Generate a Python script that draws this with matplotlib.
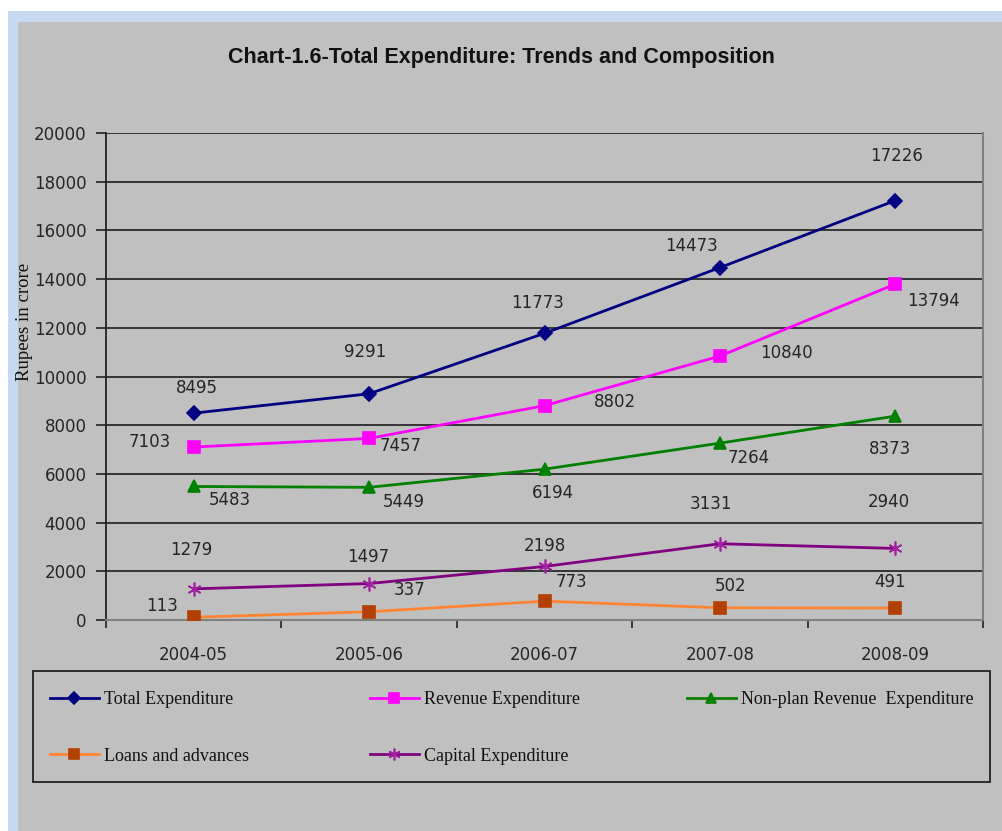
import matplotlib
matplotlib.use("Agg")
import matplotlib.pyplot as plt
from matplotlib.patches import Rectangle
import numpy as np

# ---- data -------------------------------------------------------------
years = ["2004-05", "2005-06", "2006-07", "2007-08", "2008-09"]
total_exp = [8495, 9291, 11773, 14473, 17226]
revenue_exp = [7103, 7457, 8802, 10840, 13794]
nonplan_rev_exp = [5483, 5449, 6194, 7264, 8373]
loans_adv = [113, 337, 773, 502, 491]
capital_exp = [1279, 1497, 2198, 3131, 2940]

# value-label placement around each marker (pixels: right, up)
total_off = [(3, 25), (-4, 42), (-7, 30), (-28, 22), (1, 45)]
revenue_off = [(-44, 5), (32, -8), (70, 4), (67, 3), (38, -17)]
nonplan_off = [(36, -14), (35, -15), (8, -24), (29, -15), (-5, -33)]
loans_off = [(-32, 11), (40, 22), (27, 19), (11, 22), (-5, 26)]
capital_off = [(-2, 39), (-1, 27), (0, 20), (-9, 40), (-6, 46)]

W, H = 1003, 831
fig = plt.figure(figsize=(W / 100, H / 100), dpi=100, facecolor="white")

def fx(px):
    return px / W

def fy(py):
    return 1 - py / H

# page background: light-blue band and grey chart area
fig.patches.append(Rectangle((fx(8), 0), 1, fy(11), transform=fig.transFigure,
                             facecolor="#c6d9f1", edgecolor="none", zorder=-3))
fig.patches.append(Rectangle((fx(18), 0), 1, fy(22), transform=fig.transFigure,
                             facecolor="#c0c0c0", edgecolor="none", zorder=-2))

ax = fig.add_axes([fx(106), fy(620), fx(983) - fx(106), fy(133) - fy(620)])
ax.set_facecolor("#c0c0c0")

x = np.arange(len(years))
num_font = dict(family="DejaVu Sans", size=12, color="#262626")

series = [
    (total_exp, "Total Expenditure", "#000080", "D", "#000080", 7, total_off),
    (revenue_exp, "Revenue Expenditure", "#ff00ff", "s", "#ff00ff", 9, revenue_off),
    (nonplan_rev_exp, "Non-plan Revenue  Expenditure", "#008000", "^", "#008000", 9, nonplan_off),
    (loans_adv, "Loans and advances", "#ff8533", "s", "#b34000", 8, loans_off),
    (capital_exp, "Capital Expenditure", "#800080", (6, 2, 0), "#a020a0", 10, capital_off),
]

handles = {}
for vals, name, col, mk, mcol, ms, offs in series:
    ln, = ax.plot(x, vals, color=col, lw=2, marker=mk, markersize=ms,
                  markerfacecolor=mcol, markeredgecolor=mcol, markeredgewidth=1.2,
                  zorder=4, label=name)
    handles[name] = ln
    for xi, v, (dx, dy) in zip(x, vals, offs):
        ax.annotate(str(v), (xi, v), xytext=(dx, dy), textcoords="offset pixels",
                    ha="center", va="center", zorder=5, **num_font)

# axes
ax.set_xlim(-0.5, 4.5)
ax.set_ylim(0, 20000)
ax.set_yticks(np.arange(0, 20001, 2000))
ax.set_yticklabels([str(v) for v in range(0, 20001, 2000)], **num_font)
ax.set_xticks(x)
ax.set_xticklabels(years, **num_font)
ax.set_xticks(np.arange(-0.5, 5, 1), minor=True)
ax.tick_params(axis="x", which="major", length=0, pad=19)
ax.tick_params(axis="x", which="minor", length=6, width=1.2, color="#222222", direction="out")
ax.tick_params(axis="y", length=7, width=1.2, color="#222222", pad=7)

for y in range(2000, 20001, 2000):
    ax.axhline(y, color="#2a2a2a", lw=1.3, zorder=1)
ax.spines["top"].set_visible(False)
ax.spines["left"].set_color("#222222")
ax.spines["left"].set_linewidth(1.3)
ax.spines["bottom"].set_color("#808080")
ax.spines["bottom"].set_linewidth(1.5)
ax.spines["right"].set_color("#808080")
ax.spines["right"].set_linewidth(1.5)

fig.text(fx(25), fy(322), "Rupees in crore", rotation=90, ha="center", va="center",
         family="Liberation Serif", fontsize=13.5, color="#111111")

fig.text(fx(501), fy(57), "Chart-1.6-Total Expenditure: Trends and Composition",
         ha="center", va="center", family="Liberation Sans", fontweight="bold",
         fontsize=15.5, color="#111111")

# legend box
fig.patches.append(Rectangle((fx(33), fy(782)), fx(990) - fx(33), fy(671) - fy(782),
                             transform=fig.transFigure, facecolor="none",
                             edgecolor="#222222", lw=1.3, zorder=2))

leg_cols = [
    (50, ["Total Expenditure", "Loans and advances"]),
    (370, ["Revenue Expenditure", "Capital Expenditure"]),
    (687, ["Non-plan Revenue  Expenditure"]),
]
for xpx, names in leg_cols:
    leg = fig.legend([handles[n] for n in names], names, loc="upper left",
                     bbox_to_anchor=(fx(xpx), fy(691)), frameon=False,
                     prop=dict(family="Liberation Serif", size=13),
                     handlelength=2.7, handletextpad=0.3, labelspacing=2.2,
                     borderpad=0, borderaxespad=0, markerscale=0.85)
    for t in leg.get_texts():
        t.set_color("#111111")

fig.savefig("out.png", dpi=100, facecolor="white")
